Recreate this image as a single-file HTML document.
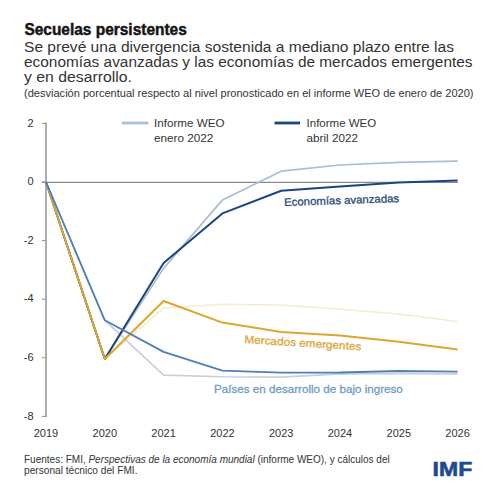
<!DOCTYPE html>
<html><head><meta charset="utf-8"><style>
html,body{margin:0;padding:0;background:#fff;width:496px;height:496px;overflow:hidden}
svg{display:block}
text{font-family:"Liberation Sans",sans-serif}
</style></head><body>
<svg width="496" height="496" viewBox="0 0 496 496">
<line x1="46" y1="122.5" x2="46" y2="417" stroke="#8a8a8a" stroke-width="1.4"/>
<line x1="42" y1="123.4" x2="46" y2="123.4" stroke="#8f8f8f" stroke-width="1"/>
<text x="33.5" y="126.5" text-anchor="end" font-size="11" fill="#333333" font-family="Liberation Sans, sans-serif">2</text>
<line x1="42" y1="182.0" x2="46" y2="182.0" stroke="#8f8f8f" stroke-width="1"/>
<text x="33.5" y="185.1" text-anchor="end" font-size="11" fill="#333333" font-family="Liberation Sans, sans-serif">0</text>
<line x1="42" y1="240.6" x2="46" y2="240.6" stroke="#8f8f8f" stroke-width="1"/>
<text x="33.5" y="243.7" text-anchor="end" font-size="11" fill="#333333" font-family="Liberation Sans, sans-serif">-2</text>
<line x1="42" y1="299.2" x2="46" y2="299.2" stroke="#8f8f8f" stroke-width="1"/>
<text x="33.5" y="302.3" text-anchor="end" font-size="11" fill="#333333" font-family="Liberation Sans, sans-serif">-4</text>
<line x1="42" y1="357.8" x2="46" y2="357.8" stroke="#8f8f8f" stroke-width="1"/>
<text x="33.5" y="360.9" text-anchor="end" font-size="11" fill="#333333" font-family="Liberation Sans, sans-serif">-6</text>
<line x1="42" y1="416.4" x2="46" y2="416.4" stroke="#8f8f8f" stroke-width="1"/>
<text x="33.5" y="419.5" text-anchor="end" font-size="11" fill="#333333" font-family="Liberation Sans, sans-serif">-8</text>
<line x1="42" y1="182.3" x2="458" y2="182.3" stroke="#8a8a8a" stroke-width="1.2"/>
<text x="46.0" y="436.6" text-anchor="middle" font-size="11" fill="#333333" font-family="Liberation Sans, sans-serif">2019</text>
<text x="104.8" y="436.6" text-anchor="middle" font-size="11" fill="#333333" font-family="Liberation Sans, sans-serif">2020</text>
<text x="163.6" y="436.6" text-anchor="middle" font-size="11" fill="#333333" font-family="Liberation Sans, sans-serif">2021</text>
<text x="222.4" y="436.6" text-anchor="middle" font-size="11" fill="#333333" font-family="Liberation Sans, sans-serif">2022</text>
<text x="281.2" y="436.6" text-anchor="middle" font-size="11" fill="#333333" font-family="Liberation Sans, sans-serif">2023</text>
<text x="340.0" y="436.6" text-anchor="middle" font-size="11" fill="#333333" font-family="Liberation Sans, sans-serif">2024</text>
<text x="398.8" y="436.6" text-anchor="middle" font-size="11" fill="#333333" font-family="Liberation Sans, sans-serif">2025</text>
<text x="457.6" y="436.6" text-anchor="middle" font-size="11" fill="#333333" font-family="Liberation Sans, sans-serif">2026</text>
<polyline points="46.0,182.0 104.8,359.0 163.6,308.0 222.4,304.2 281.2,305.1 340.0,309.2 398.8,313.9 457.6,321.5" fill="none" stroke="#f6ebcf" stroke-width="1.5" stroke-linejoin="round"/>
<polyline points="46.0,182.0 104.8,320.3 163.6,375.1 222.4,376.8 281.2,377.1 340.0,373.9 398.8,373.6 457.6,373.9" fill="none" stroke="#c6cfdb" stroke-width="1.6" stroke-linejoin="round"/>
<polyline points="46.0,182.0 104.8,359.0 163.6,268.4 222.4,199.9 281.2,171.2 340.0,165.0 398.8,162.4 457.6,161.2" fill="none" stroke="#a9bdd3" stroke-width="1.7" stroke-linejoin="round"/>
<polyline points="46.0,182.0 104.8,359.0 163.6,262.9 222.4,213.4 281.2,190.8 340.0,186.4 398.8,182.6 457.6,180.5" fill="none" stroke="#1a4581" stroke-width="2" stroke-linejoin="round"/>
<polyline points="46.0,182.0 104.8,359.0 163.6,301.0 222.4,322.6 281.2,332.0 340.0,335.5 398.8,341.7 457.6,349.6" fill="none" stroke="#dca72d" stroke-width="2" stroke-linejoin="round"/>
<polyline points="46.0,182.0 104.8,320.3 163.6,351.9 222.4,370.7 281.2,372.7 340.0,372.5 398.8,371.0 457.6,371.6" fill="none" stroke="#4e7fb5" stroke-width="1.8" stroke-linejoin="round"/>
<line x1="122" y1="123" x2="148.4" y2="123" stroke="#a9c1d9" stroke-width="2.8"/>
<text x="154" y="127.4" font-size="11" fill="#333333" font-family="Liberation Sans, sans-serif" textLength="70.5" lengthAdjust="spacingAndGlyphs">Informe WEO</text>
<text x="154" y="141.5" font-size="11" fill="#333333" font-family="Liberation Sans, sans-serif" textLength="59.4" lengthAdjust="spacingAndGlyphs">enero 2022</text>
<line x1="274.5" y1="123" x2="300" y2="123" stroke="#1a4581" stroke-width="2.8"/>
<text x="306.6" y="127.4" font-size="11" fill="#333333" font-family="Liberation Sans, sans-serif" textLength="69.6" lengthAdjust="spacingAndGlyphs">Informe WEO</text>
<text x="306.6" y="141.5" font-size="11" fill="#333333" font-family="Liberation Sans, sans-serif" textLength="51.3" lengthAdjust="spacingAndGlyphs">abril 2022</text>
<text x="284.3" y="206" font-size="11" fill="#284b7a" stroke="#284b7a" stroke-width="0.3" font-family="Liberation Sans, sans-serif" textLength="115" lengthAdjust="spacingAndGlyphs" transform="rotate(-2 284.3 206)">Economías avanzadas</text>
<text x="244.3" y="343" font-size="11" fill="#dca838" stroke="#dca838" stroke-width="0.3" font-family="Liberation Sans, sans-serif" textLength="117" lengthAdjust="spacingAndGlyphs" transform="rotate(3.6 244.3 343)">Mercados emergentes</text>
<text x="214.1" y="393.3" font-size="11" fill="#729cc4" stroke="#729cc4" stroke-width="0.3" font-family="Liberation Sans, sans-serif" textLength="188.7" lengthAdjust="spacingAndGlyphs">Países en desarrollo de bajo ingreso</text>
<text x="24.4" y="35" font-size="16" font-weight="bold" fill="#141414" stroke="#141414" stroke-width="0.45" font-family="Liberation Sans, sans-serif" textLength="162.4" lengthAdjust="spacingAndGlyphs">Secuelas persistentes</text>
<text x="24" y="51.5" font-size="14" fill="#333333" font-family="Liberation Sans, sans-serif" textLength="430" lengthAdjust="spacingAndGlyphs">Se prevé una divergencia sostenida a mediano plazo entre las</text>
<text x="24" y="66.5" font-size="14" fill="#333333" font-family="Liberation Sans, sans-serif" textLength="448.5" lengthAdjust="spacingAndGlyphs">economías avanzadas y las economías de mercados emergentes</text>
<text x="24" y="81.7" font-size="14" fill="#333333" font-family="Liberation Sans, sans-serif" textLength="108" lengthAdjust="spacingAndGlyphs">y en desarrollo.</text>
<text x="24" y="96.6" font-size="10" fill="#333333" font-family="Liberation Sans, sans-serif" textLength="449.5" lengthAdjust="spacingAndGlyphs">(desviación porcentual respecto al nivel pronosticado en el informe WEO de enero de 2020)</text>
<text x="24" y="463" font-size="10" fill="#333333" font-family="Liberation Sans, sans-serif" textLength="365.7" lengthAdjust="spacingAndGlyphs">Fuentes: FMI, <tspan font-style="italic">Perspectivas de la economía mundial</tspan> (informe WEO), y cálculos del</text>
<text x="24" y="474.3" font-size="10" fill="#333333" font-family="Liberation Sans, sans-serif" textLength="113.5" lengthAdjust="spacingAndGlyphs">personal técnico del FMI.</text>
<text x="432.6" y="476.4" font-size="20.5" font-weight="bold" fill="#1c4b94" stroke="#1c4b94" stroke-width="0.6" font-family="Liberation Sans, sans-serif" textLength="39.6" lengthAdjust="spacingAndGlyphs">IMF</text>
</svg>
</body></html>
